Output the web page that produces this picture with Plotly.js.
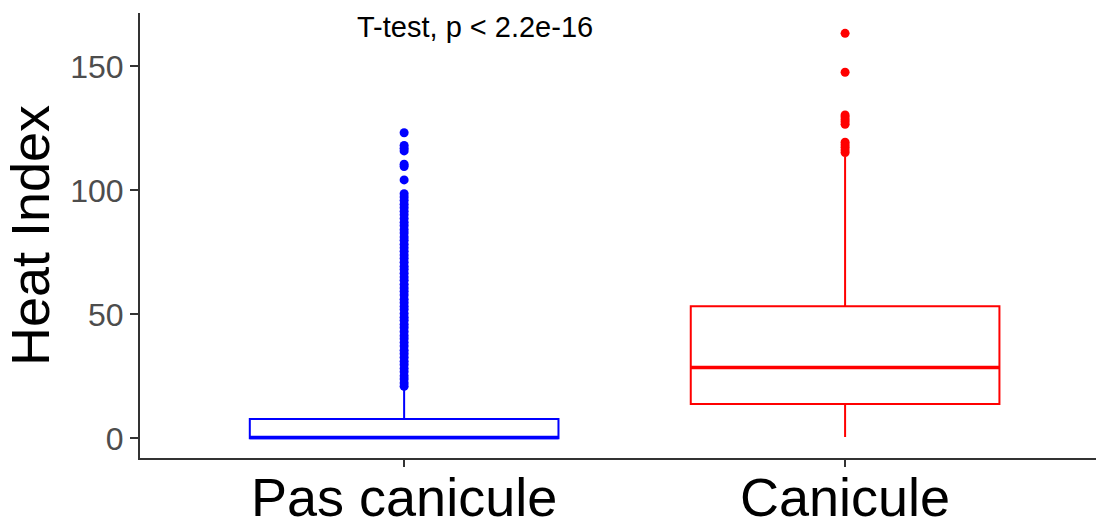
<!DOCTYPE html>
<html>
<head>
<meta charset="utf-8">
<script src="https://cdn.plot.ly/plotly-3.0.1.min.js"></script>
<style>html,body{margin:0;padding:0;background:#fff;}</style>
</head>
<body>
<div id="chart" style="width:1096px;height:524px;"></div>
<script>
// Categories and colours
const categories = ["Pas canicule", "Canicule"];
const colors = ["#0000FF", "#FF0000"];

// Box statistics
const q1 = [0, 13.8];
const median = [0.3, 28.6];
const q3 = [7.8, 53.3];
const lowerFence = [0, 0.5];
const upperFence = [19.5, 113.5];

// Outliers
const outliersPas = [21.0, 22.3, 23.9, 25.2, 26.8, 28.1, 29.7, 31.0, 32.6, 34.1, 35.5, 37.2,
  38.6, 40.1, 41.4, 43.0, 44.6, 45.9, 47.5, 48.8, 50.3, 51.9, 53.2, 54.7, 56.1, 57.8, 59.2,
  60.6, 62.1, 63.7, 65.0, 66.6, 68.1, 69.4, 71.0, 72.5, 73.9, 75.4, 76.8, 78.3, 79.9, 81.2,
  82.8, 84.1, 85.7, 87.0, 88.6, 90.1, 91.5, 93.0, 94.4, 95.9, 97.3, 98.6,
  104.2, 109.6, 110.5, 115.9, 117.0, 118.1, 123.2];
const outliersCan = [115.2, 116.3, 117.4, 118.4, 119.4, 126.6, 127.6, 128.6, 129.6, 130.4, 147.6, 163.3];
const outliers = [outliersPas, outliersCan];

const annotationText = "T-test, p < 2.2e-16";
const yTicks = [0, 50, 100, 150];

const boxWidth = 0.7;
const traces = [];
categories.forEach((c, i) => {
  traces.push({
    type: "box",
    x: [i],
    q1: [q1[i]], median: [median[i]], q3: [q3[i]],
    lowerfence: [lowerFence[i]], upperfence: [upperFence[i]],
    width: boxWidth,
    boxpoints: false,
    fillcolor: "rgba(0,0,0,0)",
    line: {color: colors[i], width: 2},
    whiskerwidth: 0,
    hoverinfo: "skip",
    showlegend: false
  });
  traces.push({
    type: "scatter", mode: "lines",
    x: [i - boxWidth / 2, i + boxWidth / 2],
    y: [median[i], median[i]],
    line: {color: colors[i], width: 3.5},
    hoverinfo: "skip", showlegend: false
  });
  traces.push({
    type: "scatter", mode: "markers",
    x: outliers[i].map(() => i),
    y: outliers[i],
    marker: {color: colors[i], size: 9, line: {width: 0}},
    hoverinfo: "skip", showlegend: false
  });
});

const layout = {
  width: 1096, height: 524,
  margin: {l: 140, r: 0, t: 13, b: 66},
  paper_bgcolor: "#fff", plot_bgcolor: "#fff",
  showlegend: false,
  boxmode: "overlay",
  font: {family: "Liberation Sans, Arial, sans-serif"},
  xaxis: {
    range: [-0.599, 1.569],
    tickmode: "array", tickvals: categories.map((c, i) => i), ticktext: categories,
    showgrid: false, zeroline: false,
    showline: true, linecolor: "#333", linewidth: 2,
    ticks: "outside", ticklen: 7, tickwidth: 2, tickcolor: "#333",
    tickfont: {size: 54, color: "#000"},
    ticklabelstandoff: -16
  },
  yaxis: {
    range: [-7.94, 171.5],
    tickmode: "array", tickvals: yTicks,
    showgrid: false, zeroline: false,
    showline: true, linecolor: "#333", linewidth: 2,
    ticks: "outside", ticklen: 8, tickwidth: 2, tickcolor: "#333",
    tickfont: {size: 32, color: "#4D4D4D"},
    title: {text: "Heat Index", font: {size: 54, color: "#000"}, standoff: 6}
  },
  annotations: [{
    x: 0.161, y: 166, xref: "x", yref: "y",
    text: annotationText, showarrow: false,
    font: {size: 29, color: "#000"},
    xanchor: "center", yanchor: "middle"
  }]
};

Plotly.newPlot("chart", traces, layout, {staticPlot: true, displayModeBar: false});
</script>
</body>
</html>
